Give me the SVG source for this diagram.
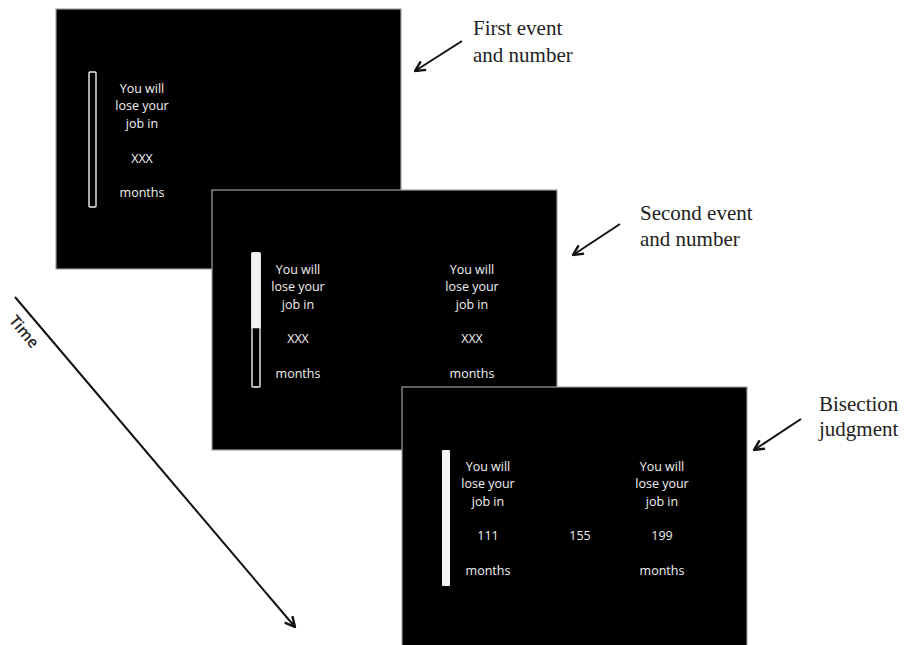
<svg xmlns="http://www.w3.org/2000/svg" width="904" height="645" viewBox="0 0 904 645">
<defs>
<style>
.panel{fill:#000;stroke:#a0a0a0;stroke-width:1.2}
.st{font-family:"Open Sans","Liberation Sans",sans-serif;font-size:12.5px;fill:#f0f0f0;text-anchor:middle}
.ann{font-family:"Liberation Serif","Times New Roman",serif;font-size:21px;fill:#222}
.bar{fill:#000;stroke:#f0f0f0;stroke-width:1.4}
.barf{fill:#f4f4f4}
.arr{stroke:#111;stroke-width:2;fill:none}
.time{font-family:"Open Sans","Liberation Sans",sans-serif;font-size:15.5px;font-weight:600;fill:#222}
</style>
<marker id="ah" viewBox="0 0 12 12" refX="11" refY="6" markerWidth="6" markerHeight="6" orient="auto" markerUnits="strokeWidth">
<path d="M1,1 L11,6 L1,11" fill="none" stroke="#111" stroke-width="2.4"/>
</marker>
</defs>
<rect width="904" height="645" fill="#fff"/>

<g id="panel1" transform="translate(56,9)">
<rect class="panel" x="0" y="0" width="345" height="260"/>
<rect class="bar" x="33" y="63" width="7" height="135" rx="1"/>
<text class="st" x="86" y="84">You will</text>
<text class="st" x="86" y="101">lose your</text>
<text class="st" x="86" y="119">job in</text>
<text class="st" x="86" y="154">XXX</text>
<text class="st" x="86" y="188">months</text>
</g>

<g id="panel2" transform="translate(212,190)">
<rect class="panel" x="0" y="0" width="345" height="260"/>
<rect class="bar" x="40" y="63" width="8" height="134" rx="1"/>
<rect class="barf" x="39.3" y="62.3" width="9.4" height="76" rx="1"/>
<text class="st" x="86" y="84">You will</text>
<text class="st" x="86" y="101">lose your</text>
<text class="st" x="86" y="119">job in</text>
<text class="st" x="86" y="153">XXX</text>
<text class="st" x="86" y="188">months</text>
<text class="st" x="260" y="84">You will</text>
<text class="st" x="260" y="101">lose your</text>
<text class="st" x="260" y="119">job in</text>
<text class="st" x="260" y="153">XXX</text>
<text class="st" x="260" y="188">months</text>
</g>

<g id="panel3" transform="translate(402,387)">
<rect class="panel" x="0" y="0" width="345" height="262"/>
<rect class="barf" x="40" y="63" width="8" height="136" rx="1"/>
<text class="st" x="86" y="84">You will</text>
<text class="st" x="86" y="101">lose your</text>
<text class="st" x="86" y="119">job in</text>
<text class="st" x="86" y="153">111</text>
<text class="st" x="86" y="188">months</text>
<text class="st" x="178" y="153">155</text>
<text class="st" x="260" y="84">You will</text>
<text class="st" x="260" y="101">lose your</text>
<text class="st" x="260" y="119">job in</text>
<text class="st" x="260" y="153">199</text>
<text class="st" x="260" y="188">months</text>
</g>

<g id="label1">
<text class="ann" x="473" y="35">First event</text>
<text class="ann" x="473" y="62">and number</text>
</g>
<g id="label2">
<text class="ann" x="640" y="220">Second event</text>
<text class="ann" x="640" y="246">and number</text>
</g>
<g id="label3">
<text class="ann" x="819" y="411">Bisection</text>
<text class="ann" x="819" y="436">judgment</text>
</g>
<g id="timeLabel">
<text class="time" x="20" y="335" text-anchor="middle" transform="rotate(50 20 335)">Time</text>
</g>

<g id="connectors">
<line class="arr" x1="462" y1="41" x2="415" y2="71" marker-end="url(#ah)"/>
<line class="arr" x1="620" y1="224" x2="573" y2="255" marker-end="url(#ah)"/>
<line class="arr" x1="801" y1="419" x2="754" y2="450" marker-end="url(#ah)"/>
<line class="arr" x1="15" y1="297" x2="295" y2="627" marker-end="url(#ah)"/>
</g>
</svg>
